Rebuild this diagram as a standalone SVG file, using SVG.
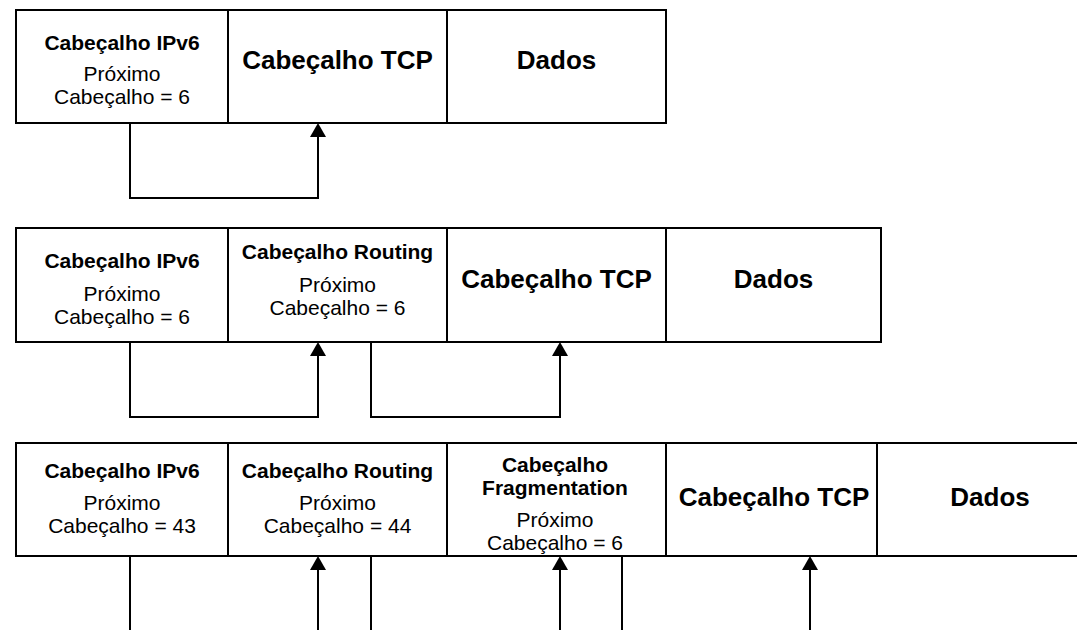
<svg xmlns="http://www.w3.org/2000/svg" width="1077" height="630" viewBox="0 0 1077 630">
<style>
.box{fill:#fff;stroke:#000;stroke-width:2}
.c{fill:none;stroke:#000;stroke-width:2}
text{font-family:"Liberation Sans",Arial,sans-serif;fill:#000;text-anchor:middle}
.t{font-size:21px;font-weight:bold}
.n{font-size:21px}
.big{font-size:26px;font-weight:bold}
</style>
<defs>
<marker id="ah" markerWidth="7" markerHeight="8" refX="6" refY="4" orient="auto" markerUnits="strokeWidth">
<path d="M0,0 L7,4 L0,8 Z" fill="#000"/>
</marker>
</defs>
<rect width="1077" height="630" fill="#fff"/>

<g id="row1">
<g id="r1-ipv6"><rect class="box" x="16" y="10" width="212" height="113"/>
<text class="t" x="122" y="50">Cabeçalho IPv6</text>
<text class="n" x="122" y="81">Próximo</text>
<text class="n" x="122" y="104">Cabeçalho = 6</text></g>
<g id="r1-tcp"><rect class="box" x="228" y="10" width="219" height="113"/>
<text class="big" x="337.5" y="69">Cabeçalho TCP</text></g>
<g id="r1-dados"><rect class="box" x="447" y="10" width="219" height="113"/>
<text class="big" x="556.5" y="69">Dados</text></g>
</g>

<g id="row2">
<g id="r2-ipv6"><rect class="box" x="16" y="228" width="212" height="114"/>
<text class="t" x="122" y="268">Cabeçalho IPv6</text>
<text class="n" x="122" y="301">Próximo</text>
<text class="n" x="122" y="324">Cabeçalho = 6</text></g>
<g id="r2-routing"><rect class="box" x="228" y="228" width="219" height="114"/>
<text class="t" x="337.5" y="259">Cabeçalho Routing</text>
<text class="n" x="337.5" y="292">Próximo</text>
<text class="n" x="337.5" y="315">Cabeçalho = 6</text></g>
<g id="r2-tcp"><rect class="box" x="447" y="228" width="219" height="114"/>
<text class="big" x="556.5" y="288">Cabeçalho TCP</text></g>
<g id="r2-dados"><rect class="box" x="666" y="228" width="215" height="114"/>
<text class="big" x="773.5" y="288">Dados</text></g>
</g>

<g id="row3">
<g id="r3-ipv6"><rect class="box" x="16" y="443" width="212" height="113"/>
<text class="t" x="122" y="478">Cabeçalho IPv6</text>
<text class="n" x="122" y="510">Próximo</text>
<text class="n" x="122" y="533">Cabeçalho = 43</text></g>
<g id="r3-routing"><rect class="box" x="228" y="443" width="219" height="113"/>
<text class="t" x="337.5" y="478">Cabeçalho Routing</text>
<text class="n" x="337.5" y="510">Próximo</text>
<text class="n" x="337.5" y="533">Cabeçalho = 44</text></g>
<g id="r3-frag"><rect class="box" x="447" y="443" width="219" height="113"/>
<text class="t" x="555" y="472">Cabeçalho</text>
<text class="t" x="555" y="495">Fragmentation</text>
<text class="n" x="555" y="527">Próximo</text>
<text class="n" x="555" y="550">Cabeçalho = 6</text></g>
<g id="r3-tcp"><rect class="box" x="666" y="443" width="211" height="113"/>
<text class="big" x="774" y="506">Cabeçalho TCP</text></g>
<g id="r3-dados"><rect class="box" x="877" y="443" width="226" height="113"/>
<text class="big" x="990" y="506">Dados</text></g>
</g>

<g id="connectors">
<path class="c" d="M130,123 V198 H318 V125" marker-end="url(#ah)"/>
<path class="c" d="M130,342 V417 H318 V344" marker-end="url(#ah)"/>
<path class="c" d="M371,342 V417 H560 V344" marker-end="url(#ah)"/>
<path class="c" d="M130,556 V630"/>
<path class="c" d="M318,630 V558" marker-end="url(#ah)"/>
<path class="c" d="M371,556 V630"/>
<path class="c" d="M560,630 V558" marker-end="url(#ah)"/>
<path class="c" d="M622,556 V630"/>
<path class="c" d="M810,630 V558" marker-end="url(#ah)"/>
</g>
</svg>
